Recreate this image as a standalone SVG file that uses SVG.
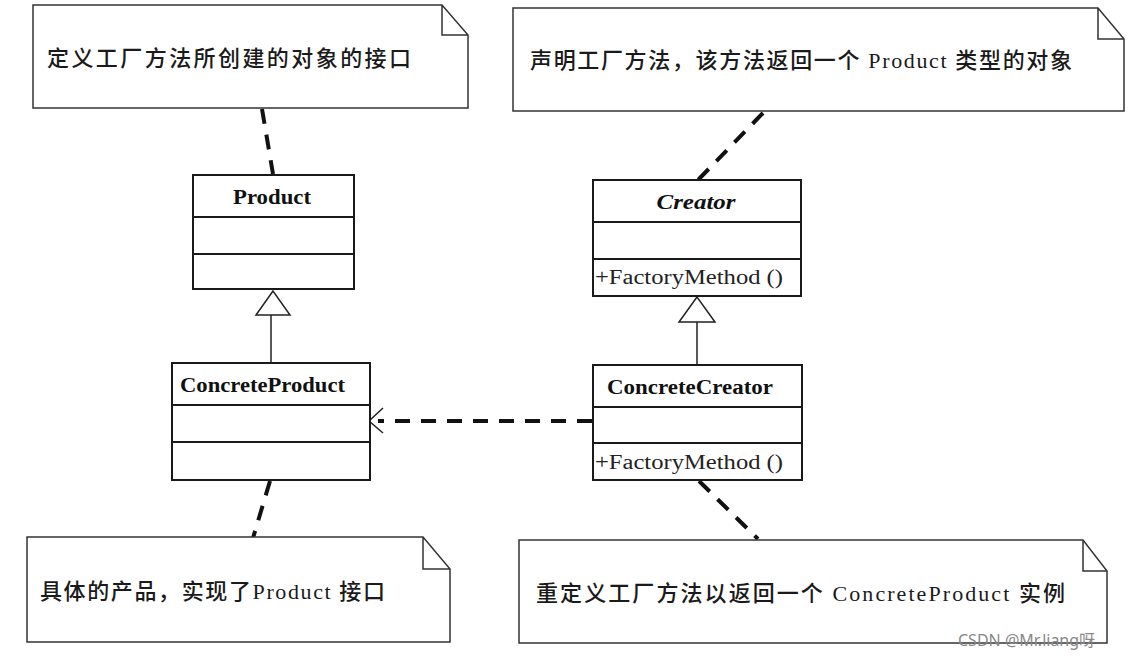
<svg xmlns="http://www.w3.org/2000/svg" width="1136" height="662" viewBox="0 0 1136 662">
<style>
.note{fill:#fff;stroke:#333;stroke-width:1.5}
.box{fill:#fff;stroke:#1a1a1a;stroke-width:2}
.div{stroke:#1a1a1a;stroke-width:2}
.dash{stroke:#111;stroke-width:4;stroke-dasharray:15 11;fill:none}
.gen{stroke:#222;stroke-width:1.5;fill:none}
.tri{fill:#fff;stroke:#222;stroke-width:1.5}
.cn{font-family:"Liberation Serif","Noto Sans CJK SC",serif;font-size:22px;fill:#1a1a1a;font-weight:500}
.cls{font-family:"Liberation Serif","Noto Sans CJK SC",serif;font-size:20px;fill:#111;font-weight:bold}
.op{font-family:"Liberation Serif","Noto Sans CJK SC",serif;font-size:20px;fill:#222}
</style>
<rect width="1136" height="662" fill="#fff"/>
<g id="connectors">
<line class="dash" x1="262" y1="109" x2="273" y2="174"/>
<line class="dash" x1="763" y1="113" x2="698" y2="180"/>
<line class="dash" x1="270" y1="481" x2="253" y2="538"/>
<line class="dash" x1="699" y1="481" x2="758" y2="539"/>
<line class="dash" x1="592" y1="421" x2="378" y2="421"/>
<polyline class="gen" points="383,408 369,421 383,433" stroke-width="2"/>
<line class="gen" x1="271" y1="315" x2="271" y2="363"/>
<polygon class="tri" points="273,291 256,315 290,315"/>
<line class="gen" x1="697" y1="322" x2="697" y2="365"/>
<polygon class="tri" points="697,297 679,322 715,322"/>
</g>
<g id="note1">
<path class="note" d="M33,5 H442 L468,35 V108 H33 Z M442,5 V35 H468"/>
<text class="cn" x="47" y="66" textLength="364" lengthAdjust="spacing">定义工厂方法所创建的对象的接口</text>
</g>
<g id="note2">
<path class="note" d="M513,8 H1098 L1124,39 V111 H513 Z M1098,8 V39 H1124"/>
<text class="cn" x="530" y="68" textLength="542" lengthAdjust="spacing">声明工厂方法，该方法返回一个 Product 类型的对象</text>
</g>
<g id="product">
<rect class="box" x="193" y="175" width="161" height="114"/>
<line class="div" x1="193" y1="217" x2="354" y2="217"/>
<line class="div" x1="193" y1="254" x2="354" y2="254"/>
<text class="cls" x="272" y="204" text-anchor="middle" textLength="78" lengthAdjust="spacingAndGlyphs">Product</text>
</g>
<g id="creator">
<rect class="box" x="593" y="180" width="208" height="116"/>
<line class="div" x1="593" y1="222" x2="801" y2="222"/>
<line class="div" x1="593" y1="259" x2="801" y2="259"/>
<text class="cls" x="696" y="209" text-anchor="middle" font-style="italic" textLength="79" lengthAdjust="spacingAndGlyphs">Creator</text>
<text class="op" x="595" y="284" textLength="188" lengthAdjust="spacingAndGlyphs">+FactoryMethod ()</text>
</g>
<g id="concreteProduct">
<rect class="box" x="172" y="363" width="198" height="117"/>
<line class="div" x1="172" y1="405" x2="370" y2="405"/>
<line class="div" x1="172" y1="442" x2="370" y2="442"/>
<text class="cls" x="180" y="392" textLength="165" lengthAdjust="spacingAndGlyphs">ConcreteProduct</text>
</g>
<g id="concreteCreator">
<rect class="box" x="593" y="365" width="209" height="115"/>
<line class="div" x1="593" y1="407" x2="802" y2="407"/>
<line class="div" x1="593" y1="443" x2="802" y2="443"/>
<text class="cls" x="607" y="394" textLength="166" lengthAdjust="spacingAndGlyphs">ConcreteCreator</text>
<text class="op" x="595" y="469" textLength="188" lengthAdjust="spacingAndGlyphs">+FactoryMethod ()</text>
</g>
<g id="note3">
<path class="note" d="M27,537 H423 L450,569 V642 H27 Z M423,537 V569 H450"/>
<text class="cn" x="40" y="599" textLength="345" lengthAdjust="spacing">具体的产品，实现了Product 接口</text>
</g>
<g id="note4">
<path class="note" d="M519,540 H1083 L1107,571 V643 H519 Z M1083,540 V571 H1107"/>
<text class="cn" x="536" y="601" textLength="529" lengthAdjust="spacing">重定义工厂方法以返回一个 ConcreteProduct 实例</text>
</g>
<text x="958" y="646" font-family="'Noto Sans','Noto Sans CJK SC',sans-serif" font-size="16" fill="#888">CSDN @Mr.liang呀</text>
</svg>
